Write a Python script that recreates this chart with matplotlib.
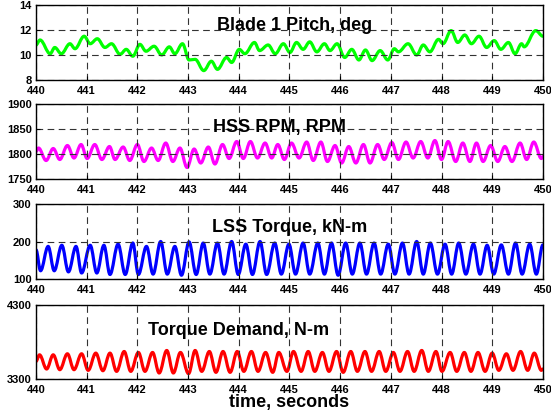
""" wind turbine time history: pitch, HSS speed, LSS torque, torque demand """

import matplotlib
matplotlib.use("Agg")
from matplotlib import pyplot as plt
from matplotlib.path import Path
from matplotlib.patches import PathPatch

# blade 1 pitch, deg (peaks and troughs)
pitch_t = [440.00, 440.08, 440.28, 440.37, 440.50, 440.67, 440.77, 440.95, 441.07, 441.21,
           441.36, 441.49, 441.66, 441.78, 441.91, 442.05, 442.17, 442.33, 442.48, 442.63,
           442.74, 442.89, 443.02, 443.14, 443.31, 443.46, 443.58, 443.76, 443.86, 444.01,
           444.12, 444.31, 444.41, 444.58, 444.72, 444.88, 445.01, 445.14, 445.27, 445.40,
           445.54, 445.69, 445.80, 445.94, 446.09, 446.23, 446.37, 446.50, 446.63, 446.79,
           446.94, 447.07, 447.15, 447.34, 447.51, 447.64, 447.77, 447.94, 448.03, 448.19,
           448.32, 448.46, 448.59, 448.74, 448.89, 449.04, 449.17, 449.32, 449.45, 449.58,
           449.63, 449.86, 450.00]
pitch = [10.8, 11.2, 10.1, 10.6, 10.1, 10.9, 10.5, 11.5, 10.9, 11.3,
         10.6, 10.9, 10.05, 10.45, 9.9, 10.85, 10.3, 10.7, 10.0, 10.65,
         10.1, 10.9, 9.6, 9.65, 8.75, 9.5, 8.85, 9.8, 9.4, 10.45,
         10.1, 11.0, 10.35, 10.8, 10.1, 10.9, 10.2, 11.0, 10.45, 11.05,
         10.25, 10.9, 10.35, 10.9, 9.8, 10.45, 9.6, 10.4, 9.55, 10.35,
         9.6, 10.5, 10.25, 10.9, 10.0, 10.8, 10.25, 11.25, 10.9, 11.95,
         11.0, 11.6, 10.9, 11.5, 10.6, 11.15, 10.45, 11.0, 10.1, 10.9,
         10.65, 11.95, 11.5]

# HSS speed, RPM
hss_t = [440.00, 440.05, 440.20, 440.34, 440.47, 440.62, 440.75, 440.89, 441.01, 441.16,
         441.30, 441.45, 441.56, 441.72, 441.85, 442.00, 442.13, 442.28, 442.41, 442.56,
         442.70, 442.84, 442.98, 443.12, 443.25, 443.40, 443.53, 443.68, 443.81, 443.96,
         444.09, 444.23, 444.37, 444.52, 444.65, 444.77, 444.90, 445.04, 445.19, 445.34,
         445.47, 445.62, 445.75, 445.90, 446.03, 446.17, 446.31, 446.46, 446.59, 446.74,
         446.87, 447.02, 447.15, 447.30, 447.44, 447.59, 447.73, 447.87, 448.00, 448.13,
         448.28, 448.42, 448.56, 448.69, 448.82, 448.97, 449.11, 449.25, 449.39, 449.55,
         449.68, 449.82, 449.97, 450.00]
hss = [1805, 1812, 1787, 1811, 1789, 1817, 1792, 1819, 1791, 1819,
       1789, 1815, 1789, 1814, 1787, 1819, 1785, 1812, 1787, 1822,
       1785, 1812, 1773, 1810, 1782, 1814, 1780, 1819, 1791, 1825,
       1791, 1825, 1792, 1822, 1792, 1819, 1789, 1822, 1792, 1824,
       1787, 1824, 1785, 1817, 1782, 1815, 1782, 1819, 1782, 1819,
       1789, 1823, 1789, 1824, 1792, 1825, 1792, 1827, 1789, 1825,
       1785, 1822, 1785, 1822, 1785, 1817, 1785, 1815, 1785, 1822,
       1789, 1824, 1791, 1795]

# LSS torque, kN-m
lss_t = [440.00, 440.09, 440.24, 440.36, 440.51, 440.64, 440.79, 440.90, 441.07, 441.20,
         441.34, 441.46, 441.62, 441.76, 441.91, 442.02, 442.18, 442.31, 442.46, 442.59,
         442.74, 442.87, 443.02, 443.16, 443.30, 443.43, 443.58, 443.71, 443.86, 443.99,
         444.14, 444.27, 444.42, 444.55, 444.71, 444.84, 444.99, 445.12, 445.27, 445.40,
         445.56, 445.69, 445.83, 445.96, 446.11, 446.24, 446.39, 446.52, 446.67, 446.80,
         446.95, 447.08, 447.23, 447.36, 447.51, 447.64, 447.78, 447.92, 448.07, 448.20,
         448.34, 448.48, 448.63, 448.76, 448.90, 449.03, 449.18, 449.32, 449.46, 449.59,
         449.74, 449.87, 450.00]
lss = [178, 122, 187, 122, 190, 119, 187, 116, 190, 116,
       190, 112, 193, 112, 196, 112, 187, 113, 200, 113,
       187, 110, 199, 112, 196, 113, 196, 113, 200, 112,
       193, 112, 200, 112, 196, 113, 193, 113, 196, 113,
       196, 113, 196, 110, 196, 113, 196, 113, 196, 113,
       193, 113, 196, 113, 200, 113, 196, 113, 193, 113,
       196, 113, 193, 113, 190, 113, 191, 113, 196, 113,
       193, 113, 191]

# torque demand, N-m
dem_t = [440.00, 440.07, 440.21, 440.34, 440.47, 440.62, 440.75, 440.90, 441.03, 441.18,
         441.32, 441.46, 441.59, 441.74, 441.87, 442.02, 442.15, 442.30, 442.43, 442.58,
         442.71, 442.85, 443.01, 443.14, 443.27, 443.42, 443.55, 443.69, 443.83, 443.97,
         444.10, 444.25, 444.38, 444.53, 444.67, 444.79, 444.95, 445.08, 445.23, 445.37,
         445.50, 445.65, 445.78, 445.93, 446.06, 446.21, 446.34, 446.49, 446.62, 446.77,
         446.90, 447.05, 447.18, 447.33, 447.46, 447.61, 447.74, 447.89, 448.01, 448.17,
         448.30, 448.45, 448.58, 448.72, 448.86, 449.00, 449.13, 449.28, 449.41, 449.56,
         449.70, 449.83, 449.97, 450.00]
demand = [3538, 3627, 3435, 3627, 3426, 3641, 3426, 3641, 3417, 3650,
          3412, 3650, 3403, 3672, 3403, 3659, 3403, 3659, 3381, 3686,
          3381, 3659, 3372, 3686, 3403, 3672, 3390, 3672, 3390, 3672,
          3403, 3672, 3403, 3659, 3390, 3659, 3403, 3672, 3403, 3672,
          3403, 3659, 3403, 3672, 3390, 3672, 3403, 3672, 3403, 3672,
          3403, 3659, 3403, 3672, 3403, 3686, 3403, 3672, 3403, 3659,
          3403, 3659, 3403, 3659, 3403, 3650, 3417, 3641, 3417, 3672,
          3417, 3650, 3417, 3435]

panels = [
	(pitch_t, pitch, "#00ff00", (8, 14), [8, 10, 12, 14], "Blade 1 Pitch, deg", (0.51, 0.73)),
	(hss_t, hss, "#ff00ff", (1750, 1900), [1750, 1800, 1850, 1900], "HSS RPM, RPM", (0.48, 0.69)),
	(lss_t, lss, "#0000ff", (100, 300), [100, 200, 300], "LSS Torque, kN-m", (0.50, 0.69)),
	(dem_t, demand, "#ff0000", (3300, 4300), [3300, 4300], "Torque Demand, N-m", (0.40, 0.66)),
]


def smooth_trace(ax, t, y, color):
	"""draw the trace as bezier segments with flat tangents at each peak/trough"""
	verts = [(t[0], y[0])]
	codes = [Path.MOVETO]
	for i in range(len(t) - 1):
		d = 0.36*(t[i + 1] - t[i])
		verts += [(t[i] + d, y[i]), (t[i + 1] - d, y[i + 1]), (t[i + 1], y[i + 1])]
		codes += [Path.CURVE4]*3
	patch = PathPatch(Path(verts, codes), fill=False, edgecolor=color, linewidth=2.3,
	                  joinstyle="round", capstyle="round")
	ax.add_patch(patch)


plt.rcParams["font.family"] = ["Liberation Sans", "DejaVu Sans"]
plt.rcParams["font.weight"] = "bold"

fig = plt.figure(figsize=(5.51, 4.17), dpi=100)
bottoms = [0.8082, 0.5707, 0.3309, 0.0911]
heights = [0.1799, 0.1799, 0.1799, 0.1775]

for (t, y, color, ylim, yticks, title, pos), b, h in zip(panels, bottoms, heights):
	ax = fig.add_axes([0.0653, b, 0.920, h])
	smooth_trace(ax, t, y, color)
	ax.set_xlim(440, 450)
	ax.set_ylim(*ylim)
	ax.set_xticks(range(440, 451))
	ax.set_yticks(yticks)
	ax.grid(True, color="0.2", linestyle=(0, (6, 4)), linewidth=0.8)
	ax.tick_params(axis="x", direction="in", length=3, labelsize=8, pad=4)
	ax.tick_params(axis="y", direction="in", length=3, labelsize=8, pad=3)
	for lab in ax.get_xticklabels() + ax.get_yticklabels():
		lab.set_fontweight("bold")
	for s in ax.spines.values():
		s.set_linewidth(1.0)
	ax.text(pos[0], pos[1], title, transform=ax.transAxes, ha="center", va="center",
	        fontsize=13, fontweight="bold")

fig.text(0.524, 0.034, "time, seconds", ha="center", va="center", fontsize=13, fontweight="bold")

fig.savefig("out.png", dpi=100)
